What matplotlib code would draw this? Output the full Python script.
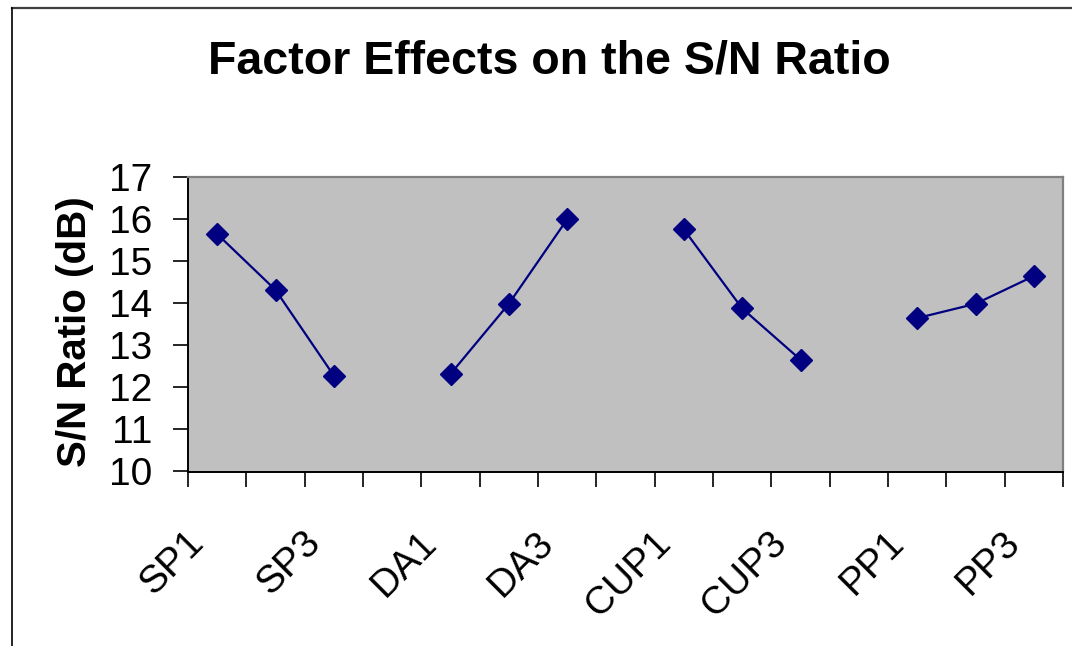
import matplotlib
matplotlib.use("Agg")
import matplotlib.pyplot as plt
from matplotlib.lines import Line2D
from matplotlib.transforms import ScaledTranslation

plt.rcParams['font.family'] = ['Liberation Sans', 'DejaVu Sans']

# ---- data ----
categories = ["SP1", "SP2", "SP3", "", "DA1", "DA2", "DA3", "",
              "CUP1", "CUP2", "CUP3", "", "PP1", "PP2", "PP3"]
shown_labels = ["SP1", "SP3", "DA1", "DA3", "CUP1", "CUP3", "PP1", "PP3"]
sp_values = [15.65, 14.32, 12.28]
da_values = [12.32, 13.99, 16.00]
cup_values = [15.76, 13.88, 12.66]
pp_values = [13.65, 13.99, 14.65]
groups = [("SP", sp_values), ("DA", da_values), ("CUP", cup_values), ("PP", pp_values)]

yticks = [10, 11, 12, 13, 14, 15, 16, 17]
title = "Factor Effects on the S/N Ratio"
ylabel = "S/N Ratio (dB)"

W, H = 1072, 646
fig = plt.figure(figsize=(W / 100, H / 100), dpi=100)
fig.patch.set_facecolor("white")

# outer chart frame (top and left edges visible)
fig.add_artist(Line2D([11.5 / W, 1.0], [1 - 7.5 / H, 1 - 7.5 / H],
                      transform=fig.transFigure, color="#404040", lw=1.6))
fig.add_artist(Line2D([11.5 / W, 11.5 / W], [1 - 7.5 / H, 0.0],
                      transform=fig.transFigure, color="black", lw=1.2))

ax = fig.add_axes([188 / W, 1 - 471.5 / H, (1063 - 188) / W, (471.5 - 177.3) / H])
ax.set_facecolor("#C0C0C0")

x_pos = {c: i for i, c in enumerate(categories) if c}
for prefix, vals in groups:
    xs = [x_pos[f"{prefix}{k + 1}"] for k in range(len(vals))]
    ax.plot(xs, vals, color="#000080", lw=1.6, marker="D", markersize=11,
            markerfacecolor="#000080", markeredgecolor="#000080")

ax.set_xlim(-0.5, len(categories) - 0.5)
ax.set_ylim(10, 17)
ax.set_yticks(yticks)
ax.set_yticklabels([str(v) for v in yticks], fontsize=28)
ax.tick_params(axis="y", direction="out", length=11, width=1.2, pad=15, colors="black")

ax.set_xticks([i - 0.5 for i in range(len(categories) + 1)])
ax.set_xticklabels([])
ax.tick_params(axis="x", direction="out", length=11, width=1.2, colors="black")

for sp in ["top", "right"]:
    ax.spines[sp].set_color("#808080")
    ax.spines[sp].set_linewidth(1.6)
for sp in ["left", "bottom"]:
    ax.spines[sp].set_color("black")
    ax.spines[sp].set_linewidth(1.4)

offset = ScaledTranslation(-0.19, -0.66, fig.dpi_scale_trans)
for lab in shown_labels:
    ax.text(x_pos[lab], 0, lab, transform=ax.get_xaxis_transform() + offset,
            rotation=45, rotation_mode="anchor", ha="right", va="center",
            fontsize=28, color="black")

fig.text(549 / W, 1 - 62 / H, title, fontsize=33.5, fontweight="bold",
         ha="center", va="center")
fig.text(75 / W, 1 - 332 / H, ylabel, fontsize=29, fontweight="bold",
         rotation=90, ha="center", va="center")

fig.savefig("out.png", dpi=100)
